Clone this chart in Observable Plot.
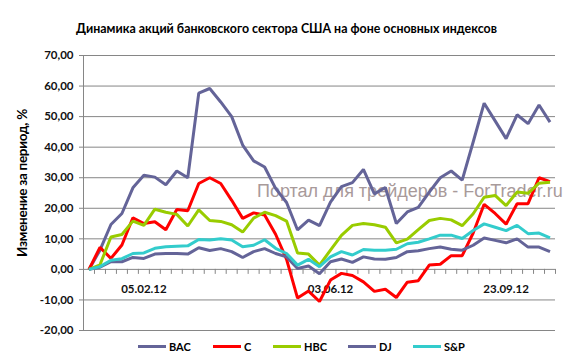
<!DOCTYPE html>
<html>
<head>
<meta charset="utf-8">
<script src="https://cdn.jsdelivr.net/npm/d3@7"></script>
<script src="https://cdn.jsdelivr.net/npm/@observablehq/plot@0.6"></script>
<style>
  body { margin: 0; background: #fff; }
  #wrap { position: relative; width: 573px; height: 361px; font-family: Lato, "Open Sans", sans-serif; overflow: hidden; }
  #chart { position: absolute; left: 0; top: 0; z-index: 2; }
  .abs { position: absolute; white-space: nowrap; }
  #title { left: 0; width: 573px; top: 21px; text-align: center; font-weight: bold; font-size: 12.4px; line-height: 16px; color: #000; }
  #ytitle { left: 21.5px; top: 183px; transform: translate(-50%, -50%) rotate(-90deg); font-weight: bold; font-size: 13.5px; line-height: 16px; color: #000; letter-spacing: -0.3px; }
  #wm { left: 257px; top: 181px; font-family: "Liberation Sans", Arial, sans-serif; font-size: 18px; line-height: 20px; color: #a89a9a; z-index: 1; }
  .leg { position: absolute; top: 339px; height: 14px; display: flex; align-items: center; font-weight: bold; font-size: 11px; color: #000; z-index: 3; }
  .leg span.sw { display: inline-block; width: 28px; height: 3px; margin-right: 3px; }
</style>
</head>
<body>
<div id="wrap">
  <div id="wm" class="abs">Портал для трейдеров - ForTrader.ru</div>
  <div id="chart"></div>
  <div id="title" class="abs">Динамика акций банковского сектора США на фоне основных индексов</div>
  <div id="ytitle" class="abs">Изменение за период, %</div>
  <div id="legend"></div>
</div>
<script>
// Weekly categories
const dates = [
  "01.01.12","08.01.12","15.01.12","22.01.12","29.01.12","05.02.12","12.02.12","19.02.12","26.02.12",
  "04.03.12","11.03.12","18.03.12","25.03.12","01.04.12","08.04.12","15.04.12","22.04.12","29.04.12",
  "06.05.12","13.05.12","20.05.12","27.05.12","03.06.12","10.06.12","17.06.12","24.06.12","01.07.12",
  "08.07.12","15.07.12","22.07.12","29.07.12","05.08.12","12.08.12","19.08.12","26.08.12","02.09.12",
  "09.09.12","16.09.12","23.09.12","30.09.12","07.10.12","14.10.12","21.10.12"
];
const tickLabels = ["05.02.12", "03.06.12", "23.09.12"];
const yTicks = [-20, -10, 0, 10, 20, 30, 40, 50, 60, 70];

const BAC = [0, 6.3, 14.7, 18.3, 26.7, 30.8, 30.2, 27.7, 32.2, 30.0, 57.7, 59.2, 54.8, 50.0, 40.7, 35.5, 33.5, 26.5,
  21.9, 12.9, 16.1, 14.3, 22.0, 27.1, 28.4, 32.7, 24.7, 26.8, 15.0, 18.8, 20.3, 25.3, 30.0, 32.2, 29.2, 41.7,
  54.4, 48.6, 42.8, 50.6, 47.7, 53.8, 48.2];
const C = [0, 7.2, 3.6, 8.0, 16.9, 15.0, 15.6, 13.0, 19.6, 19.2, 28.1, 30.0, 28.1, 22.6, 16.7, 18.5, 17.8, 11.5,
  3.3, -9.4, -7.1, -10.5, -3.5, -1.3, -2.0, -4.1, -7.2, -6.5, -9.2, -4.2, -3.7, 1.4, 1.7, 4.5, 4.5, 11.9,
  21.3, 18.3, 14.8, 21.5, 21.5, 30.0, 28.7];
const HBC = [0, 1.5, 10.6, 11.4, 15.8, 14.4, 19.7, 18.7, 18.0, 14.2, 19.5, 16.0, 15.7, 14.6, 12.2, 16.8, 18.7, 17.6,
  15.8, 5.4, 5.0, 1.4, 6.3, 11.1, 14.4, 15.0, 14.6, 13.8, 8.7, 9.9, 13.0, 16.0, 16.7, 16.2, 14.3, 18.2,
  23.6, 24.2, 20.9, 25.3, 24.9, 28.2, 28.5];
const DJ = [0, 0.7, 2.5, 2.5, 3.9, 3.6, 5.0, 5.2, 5.2, 5.0, 7.1, 6.2, 6.8, 5.8, 3.9, 5.8, 6.8, 5.2,
  4.1, 0.3, 1.1, -1.4, 2.5, 3.4, 2.3, 4.1, 3.4, 3.3, 3.9, 5.8, 6.1, 6.8, 7.3, 6.6, 6.3, 7.9,
  10.3, 9.5, 8.7, 10.0, 7.3, 7.3, 5.8];
const SP = [0, 0.9, 3.0, 3.5, 5.2, 5.4, 6.9, 7.4, 7.6, 7.7, 9.8, 9.6, 10.0, 9.6, 7.4, 7.9, 9.7, 6.9,
  5.2, 1.4, 3.3, 0.9, 4.1, 5.8, 4.7, 6.5, 6.3, 6.3, 6.6, 8.4, 8.9, 10.0, 11.2, 11.2, 10.1, 12.7,
  14.9, 13.8, 12.7, 14.4, 11.7, 11.9, 10.3];

const seriesNames = ["BAC", "C", "HBC", "DJ", "S&P"];
const seriesValues = [BAC, C, HBC, DJ, SP];
const seriesColors = ["#646498", "#ff0000", "#99cc00", "#646498", "#33cccc"];

const rows = seriesNames.flatMap((name, s) =>
  dates.map((d, i) => ({series: name, date: d, i, value: seriesValues[s][i]})));

const fmt = v => v.toFixed(2).replace(".", ",");
const grid = "#868686";

const chart = Plot.plot({
  width: 573,
  height: 361,
  marginLeft: 83,
  marginRight: 18,
  marginTop: 55,
  marginBottom: 31,
  style: {background: "transparent", fontFamily: "Lato, 'Open Sans', sans-serif"},
  x: {type: "linear", domain: [-0.5, dates.length - 0.5], axis: null},
  y: {domain: [-20, 70], axis: null},
  marks: [
    Plot.ruleY(yTicks, {stroke: grid, strokeWidth: 1}),
    Plot.ruleX([-0.5], {stroke: grid, strokeWidth: 1}),
    Plot.ruleY(yTicks, {x1: -0.5, x2: -0.5, stroke: grid, insetLeft: -4}),
    Plot.ruleX(dates.map((d, i) => i + 0.5), {y1: 0, y2: 0, stroke: grid, insetBottom: -5}),
    Plot.text(yTicks, {x: -0.5, y: d => d, text: fmt, textAnchor: "end", dx: -10, fontSize: 11.5, fontWeight: "bold", fill: "#111"}),
    Plot.text(tickLabels, {x: d => dates.indexOf(d), y: 0, text: d => d, dy: 20, fontSize: 11.5, fontWeight: "bold", fill: "#111"}),
    ...seriesNames.map((name, s) =>
      Plot.line(rows.filter(r => r.series === name), {x: "i", y: "value", stroke: seriesColors[s], strokeWidth: 3, strokeLinejoin: "miter", strokeLinecap: "butt"}))
  ]
});
document.getElementById("chart").appendChild(chart);

// Legend
const legendX = [138, 213, 273, 348, 413];
const legend = document.getElementById("legend");
seriesNames.forEach((name, s) => {
  const el = document.createElement("div");
  el.className = "leg";
  el.style.left = legendX[s] + "px";
  el.innerHTML = `<span class="sw" style="background:${seriesColors[s]}"></span>${name}`;
  legend.appendChild(el);
});
</script>
</body>
</html>
